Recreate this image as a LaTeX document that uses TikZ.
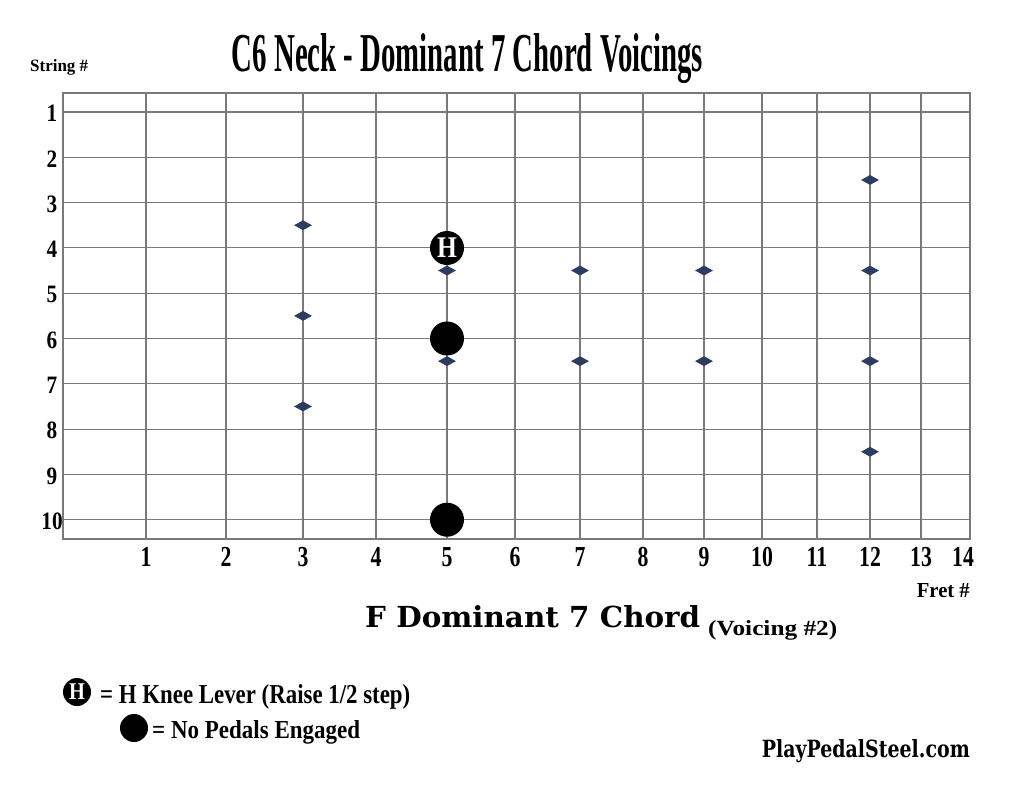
\documentclass[tikz,border=0pt]{standalone}
\usepackage{fontspec}
\setmainfont{Liberation Serif}
\newfontfamily\wideserif{DejaVu Serif}
\usetikzlibrary{shapes.geometric}
\definecolor{gridcol}{HTML}{7A7A7A}
\definecolor{notecol}{HTML}{2C3B5E}
\begin{document}
\begin{tikzpicture}[x=1pt,y=-1pt,
  gridline/.style={draw=gridcol, line width=1.2pt},
  note/.style={diamond, fill=notecol, inner sep=0pt, minimum width=18pt, minimum height=10pt},
  bigdot/.style={circle, fill=black, inner sep=0pt, minimum size=34pt},
  hdot/.style={circle, fill=black, inner sep=0pt, minimum size=34pt, text=white,
    font=\fontsize{30}{30}\selectfont\bfseries},
  legdot/.style={circle, fill=black, inner sep=0pt, minimum size=28pt},
  leghdot/.style={circle, fill=black, inner sep=0pt, minimum size=28pt, text=white,
    font=\fontsize{24}{24}\selectfont\bfseries},
  strlbl/.style={inner sep=0pt, font=\fontsize{25}{25}\selectfont\bfseries},
  fretlbl/.style={inner sep=0pt, font=\fontsize{29}{29}\selectfont\bfseries},
  txt/.style={inner sep=0pt}
]
\useasboundingbox (0,0) rectangle (1024,791);
\fill[white] (0,0) rectangle (1024,791);

% grid frame
\coordinate (gtl) at (63,93);
\coordinate (gbr) at (970,539);
\draw[gridline] (gtl) rectangle (gbr);

% string lines and labels
\foreach \s in {1,...,10}{
  \pgfmathsetmacro{\yy}{112+(\s-1)*45.3}
  \coordinate (sl\s) at (63,\yy);
  \coordinate (sr\s) at (970,\yy);
  \draw[gridline] (sl\s) -- (sr\s);
  \node[strlbl] (slab\s) at (52,\yy+1.5) {\scalebox{0.85}[1]{\s}};
}

% fret lines and labels
\foreach \f/\x in {1/146,2/226,3/303,4/376,5/447,6/515,7/580,8/643,9/704,10/762,11/817,12/870,13/921}{
  \coordinate (ft\f) at (\x,93);
  \coordinate (fb\f) at (\x,539);
  \draw[gridline] (ft\f) -- (fb\f);
  \node[fretlbl] (flab\f) at (\x,557) {\scalebox{0.75}[1]{\f}};
}
\node[fretlbl] (flab14) at (963,557) {\scalebox{0.75}[1]{14}};

% notes (diamonds between strings)
\foreach \f/\x/\s in {3/303/3.5,3/303/5.5,3/303/7.5,5/447/4.5,5/447/6.5,7/580/4.5,7/580/6.5,9/704/4.5,9/704/6.5,12/870/2.5,12/870/4.5,12/870/6.5,12/870/8.5}{
  \pgfmathsetmacro{\yy}{112+(\s-1)*45.3}
  \node[note] (n-\f-\s) at (\x,\yy) {};
}

% fretted positions
\node[hdot] (hpos) at (447,248) {\scalebox{0.85}[1]{H}};
\node[bigdot] (dot6) at (447,338.5) {};
\node[bigdot] (dot10) at (447,519.7) {};

% titles and labels
\node[txt, anchor=base] (title) at (467.5,72) {\resizebox{471pt}{38pt}{\bfseries C6 Neck - Dominant 7 Chord Voicings}};
\node[txt, anchor=base west] (stringhdr) at (30,72) {\resizebox{58pt}{12pt}{\bfseries String \#}};
\node[txt, anchor=base east] (frethdr) at (970,597) {\resizebox{53pt}{14pt}{\bfseries Fret \#}};
\node[txt, anchor=base west] (chord) at (365,627) {\resizebox{335pt}{22pt}{\wideserif\bfseries F Dominant 7 Chord}};
\node[txt, anchor=base west] (voicing) at (708,635) {\resizebox{129pt}{15pt}{\bfseries (Voicing \#2)}};

% legend
\node[leghdot] (legh) at (77,692) {\scalebox{0.85}[1]{H}};
\node[txt, anchor=base west] (leghtxt) at (100,703) {\resizebox{310pt}{19pt}{\bfseries = H Knee Lever (Raise 1/2 step)}};
\node[legdot] (legdot) at (134,728) {};
\node[txt, anchor=base west] (legdottxt) at (152,738) {\resizebox{208pt}{18pt}{\bfseries = No Pedals Engaged}};

\node[txt, anchor=base east] (site) at (970,757) {\resizebox{208pt}{18pt}{\wideserif\bfseries PlayPedalSteel.com}};
\end{tikzpicture}
\end{document}
